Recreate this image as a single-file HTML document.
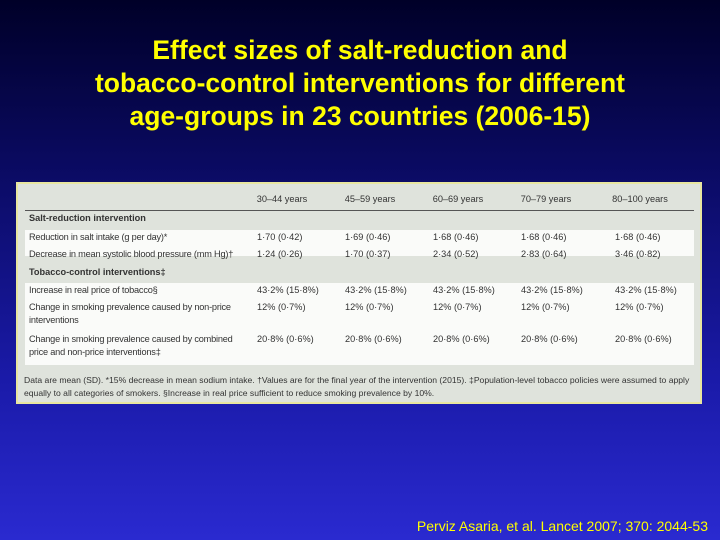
<!DOCTYPE html>
<html><head><meta charset="utf-8"><style>
body{margin:0}
#s{position:relative;width:720px;height:540px;overflow:hidden;background:linear-gradient(#000028 0%,#0a0a60 30%,#1a1aa8 70%,#2a2ad0 100%);font-family:"Liberation Sans",sans-serif}
.t{position:absolute;left:0;width:720px;text-align:center;color:#ffff00;font-weight:bold;font-size:26.5px;line-height:33px;top:34px}
#box{position:absolute;left:16px;top:182px;width:686px;height:222px;background:#dfe3dc;border:2px solid #e8e6a0;box-sizing:border-box}
.a{position:absolute;font-size:9.2px;color:#333;white-space:nowrap;line-height:13px}
.b{font-weight:bold}
.w{position:absolute;left:7px;width:669px;background:#fafbf9}
#cite{position:absolute;right:12px;top:518px;color:#ffff00;font-size:14px}
</style></head><body>
<div id="s">
<div class="t">Effect sizes of salt-reduction and<br>tobacco-control interventions for different<br>age-groups in 23 countries (2006-15)</div>
<div id="box">
<div class="w" style="top:46px;height:26px"></div>
<div class="w" style="top:99px;height:82px"></div>
<div style="position:absolute;left:7px;width:669px;top:26px;height:1px;background:#555"></div>
</div>
<div id="cells"></div>
<div id="cite">Perviz Asaria, et al. Lancet 2007; 370: 2044-53</div>
</div>
<script>
const cols=[282,370,458,546,640];
const heads=["30–44 years","45–59 years","60–69 years","70–79 years","80–100 years"];
const rows=[
 {y:212,label:"Salt-reduction intervention",bold:true,vals:[]},
 {y:231,label:"Reduction in salt intake (g per day)*",vals:["1·70 (0·42)","1·69 (0·46)","1·68 (0·46)","1·68 (0·46)","1·68 (0·46)"]},
 {y:248,label:"Decrease in mean systolic blood pressure (mm Hg)†",vals:["1·24 (0·26)","1·70 (0·37)","2·34 (0·52)","2·83 (0·64)","3·46 (0·82)"]},
 {y:266,label:"Tobacco-control interventions‡",bold:true,vals:[]},
 {y:284,label:"Increase in real price of tobacco§",vals:["43·2% (15·8%)","43·2% (15·8%)","43·2% (15·8%)","43·2% (15·8%)","43·2% (15·8%)"]},
 {y:301,label:"Change in smoking prevalence caused by non-price<br>interventions",vals:["12% (0·7%)","12% (0·7%)","12% (0·7%)","12% (0·7%)","12% (0·7%)"]},
 {y:333,label:"Change in smoking prevalence caused by combined<br>price and non-price interventions‡",vals:["20·8% (0·6%)","20·8% (0·6%)","20·8% (0·6%)","20·8% (0·6%)","20·8% (0·6%)"]}
];
const c=document.getElementById('cells');
function add(x,y,html,cls,center){const d=document.createElement('div');d.className='a '+(cls||'');d.innerHTML=html;d.style.top=y+'px';if(center){d.style.left=(x-50)+'px';d.style.width='100px';d.style.textAlign='center'}else d.style.left=x+'px';c.appendChild(d);return d;}
heads.forEach((h,i)=>{const d=add(cols[i],193,h,'',true);

});
rows.forEach(r=>{const d=add(29,r.y,r.label,r.bold?'b':'');
if(!r.bold)d.style.letterSpacing='-0.2px';


r.vals.forEach((v,i)=>{const e=add(cols[i]-25,r.y,v,'');

});});
const f=add(24,374,"Data are mean (SD). *15% decrease in mean sodium intake. †Values are for the final year of the intervention (2015). ‡Population-level tobacco policies were assumed to apply<br>equally to all categories of smokers. §Increase in real price sufficient to reduce smoking prevalence by 10%.");
f.style.fontSize='8.6px';


</script>
</body></html>
